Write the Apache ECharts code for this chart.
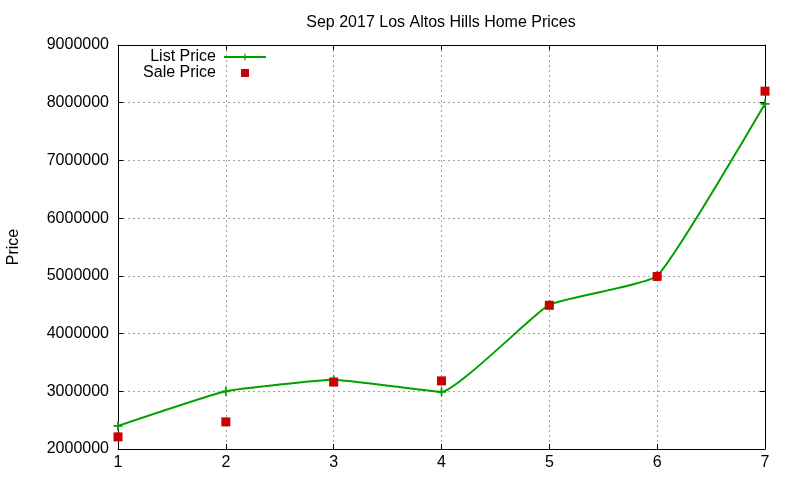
<!DOCTYPE html>
<html>
<head>
<meta charset="utf-8">
<script src="https://cdn.jsdelivr.net/npm/echarts@6/dist/echarts.min.js"></script>
<style>
html,body{margin:0;padding:0;background:#fff;}
#chart{width:800px;height:480px;}
</style>
</head>
<body>
<div id="chart"></div>
<script>
var titleText = 'Sep 2017 Los Altos Hills Home Prices';
var xValues = [1, 2, 3, 4, 5, 6, 7];
var listPrice = [2400000, 3000000, 3200000, 2990000, 4500000, 5000000, 7980000];
var salePrice = [2210000, 2470000, 3160000, 3180000, 4490000, 4990000, 8200000];
var yTicks = [2000000, 9000000, 1000000]; // min, max, interval

var FONT = '"Liberation Sans", Arial, sans-serif';
var chart = echarts.init(document.getElementById('chart'), null, {renderer: 'canvas'});

var plusPath = 'path://M4,0H6V4H10V6H6V10H4V6H0V4H4Z';
// square centred in a 42x8 box (degenerate end segments only set the box size)
var squarePath = 'path://M0,4L0.01,4ZM17,0H25V8H17ZM41.99,4L42,4Z';

var splitStyle = {show: true, lineStyle: {color: '#a0a0a0', width: 1, type: [2, 3]}};

function xAxisBase(pos, showLabels) {
  return {
    type: 'value', position: pos, min: 1, max: 7, interval: 1,
    axisLine: {show: true, lineStyle: {color: '#000', width: 1}},
    axisTick: {show: true, inside: true, length: 5, lineStyle: {color: '#000'}},
    axisLabel: {show: showLabels, color: '#000', fontSize: 16, fontFamily: FONT, margin: 6},
    splitLine: showLabels ? splitStyle : {show: false}
  };
}
function yAxisBase(pos, showLabels) {
  return {
    type: 'value', position: pos, min: yTicks[0], max: yTicks[1], interval: yTicks[2],
    axisLine: {show: true, lineStyle: {color: '#000', width: 1}},
    axisTick: {show: true, inside: true, length: 5, lineStyle: {color: '#000'}},
    axisLabel: {show: showLabels, color: '#000', fontSize: 16, fontFamily: FONT, margin: 9,
      formatter: function (v) { return String(v); }},
    splitLine: showLabels ? splitStyle : {show: false}
  };
}

var y0 = yAxisBase('left', true);
y0.name = 'Price';
y0.nameLocation = 'middle';
y0.nameGap = 96;
y0.nameTextStyle = {color: '#000', fontSize: 16, fontFamily: FONT};

var option = {
  backgroundColor: '#fff',
  animation: false,
  title: {
    text: titleText, left: 436, top: 10, textAlign: 'center',
    textStyle: {color: '#000', fontSize: 16, fontWeight: 'normal', fontFamily: FONT}
  },
  grid: {left: 118, right: 35, top: 45, bottom: 31, containLabel: false, outerBoundsMode: 'none'},
  legend: {
    data: ['List Price', {name: 'Sale Price', icon: squarePath}],
    orient: 'vertical', align: 'right', right: 533, top: 49, padding: 0,
    itemWidth: 42, itemHeight: 8, itemGap: 0,
    symbolKeepAspect: false,
    textStyle: {color: '#000', fontSize: 16, fontFamily: FONT, lineHeight: 16, padding: [0, 3, 0, 0]}
  },
  xAxis: [xAxisBase('bottom', true), xAxisBase('top', false)],
  yAxis: [y0, yAxisBase('right', false)],
  series: [{
    name: 'List Price', type: 'line', smooth: 0.12,
    data: xValues.map(function (x, i) { return [x, listPrice[i]]; }),
    symbol: plusPath, symbolSize: 9,
    lineStyle: {color: '#00a000', width: 2},
    itemStyle: {color: '#00a000'},
    z: 2
  }, {
    name: 'Sale Price', type: 'scatter',
    data: xValues.map(function (x, i) { return [x, salePrice[i]]; }),
    symbol: 'rect', symbolSize: 9,
    itemStyle: {color: '#cc0000', opacity: 1},
    z: 3
  }]
};
chart.setOption(option);
</script>
</body>
</html>
